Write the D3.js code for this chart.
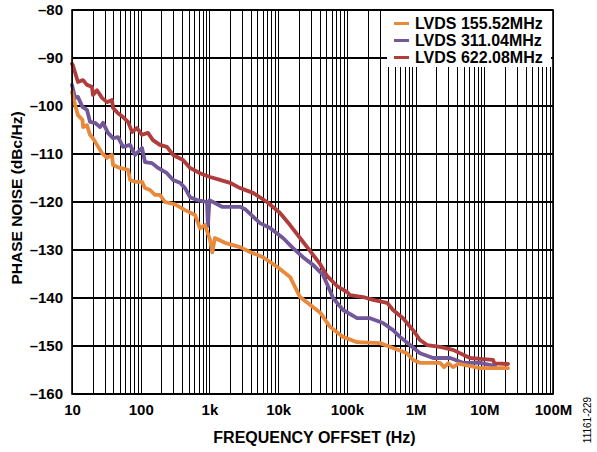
<!DOCTYPE html>
<html>
<head>
<meta charset="utf-8">
<script src="https://cdn.jsdelivr.net/npm/d3@7"></script>
<style>
body { margin: 0; background: #fff; }
text { font-family: "Liberation Sans", Arial, sans-serif; font-weight: bold; fill: #000; }
.grid line { stroke: #000; stroke-width: 1; shape-rendering: crispEdges; }
.grid line.major { stroke-width: 1.6; }
.trace { fill: none; stroke-width: 3.8; stroke-linejoin: round; stroke-linecap: round; }
</style>
</head>
<body>
<script>
// series names and colours
var seriesNames = ["LVDS 155.52MHz", "LVDS 311.04MHz", "LVDS 622.08MHz"];
var seriesColors = ["#e8893b", "#72579a", "#b03c3c"];

// tick labels
var xTicks = [10, 100, 1e3, 1e4, 1e5, 1e6, 1e7, 1e8];
var xTickLabels = ["10", "100", "1k", "10k", "100k", "1M", "10M", "100M"];
var yTicks = [-80, -90, -100, -110, -120, -130, -140, -150, -160];

// phase noise: [offset Hz, dBc/Hz]
var lvds155 = [
    [10, -97.1], [11.1, -99.8], [12.2, -101.9], [14.2, -102.9], [14.5, -104.4],
    [16.5, -104.0], [18.3, -106.0], [20.2, -106.7], [23.1, -108.1], [27.3, -109.8],
    [32.3, -110.8], [38.2, -110.2], [39.5, -112.3], [49.9, -112.9], [65.4, -113.3],
    [70, -115.4], [82.7, -115.8], [104.5, -115.8], [115.5, -117.1], [137, -117.5],
    [161, -118.5], [190, -118.5], [226, -120.0], [316, -120.5], [442, -121.7],
    [617, -122.7], [730, -125.5], [863, -124.8], [1020, -127.9], [1100, -130.5],
    [1200, -127.5], [1686, -128.5], [2790, -129.4], [3900, -130.4], [6030, -131.5],
    [9640, -133.5], [14900, -135.6], [20840, -139.8], [40700, -143.0], [56900, -146.0],
    [88000, -148.1], [141000, -149.2], [304000, -149.4], [470000, -150.4], [751000, -151.5],
    [920000, -152.9], [1.16e6, -153.5], [2.27e6, -153.5], [2.6e6, -154.4], [3.0e6, -153.6],
    [3.51e6, -154.4], [4.2e6, -153.7], [8.69e6, -154.6], [2.22e7, -154.6]
];
var lvds311 = [
    [10, -95.6], [11.1, -98.3], [12.2, -98.1], [14.2, -100.2], [16.5, -100.8],
    [18.3, -103.3], [21.6, -103.5], [25.6, -104.4], [28.3, -103.5], [33.4, -105.6],
    [39.5, -106.7], [46.7, -106.5], [55.3, -108.5], [70, -108.1], [82.7, -110.2],
    [104.5, -108.75], [115.5, -111.7], [146, -111.9], [179, -112.9], [241, -114.0],
    [296, -115.4], [373, -116.0], [442, -117.1], [522, -119.0], [659, -119.6],
    [923, -120.0], [950, -125.0], [1000, -119.6], [1525, -121.0], [2790, -121.0],
    [3300, -121.5], [5450, -124.4], [7620, -125.4], [11790, -127.5], [16480, -129.6],
    [23030, -131.5], [32200, -133.1], [45000, -135.2], [56900, -138.5], [62900, -140.0],
    [88000, -142.5], [141000, -144.2], [218000, -144.2], [336000, -145.2], [470000, -146.7],
    [594000, -148.1], [831000, -149.8], [1.16e6, -151.5], [1.8e6, -152.5], [3.18e6, -152.5],
    [4.91e6, -153.5], [8.69e6, -153.5], [1.44e7, -154.2]
];
var lvds622 = [
    [10, -91.2], [10.3, -91.5], [12.2, -95.0], [14.5, -94.6], [16.5, -95.6],
    [19.5, -96.0], [20.2, -97.7], [23.1, -96.7], [27.3, -98.3], [32.3, -99.2],
    [38.2, -98.75], [39.5, -100.4], [46.7, -101.5], [55.3, -102.3], [65.4, -103.3],
    [74.8, -105.4], [88.4, -104.6], [104.5, -106.0], [127.5, -105.6], [150.6, -107.1],
    [190, -108.1], [241, -108.5], [296, -110.2], [413, -111.25], [522, -112.9],
    [730, -114.0], [1020, -114.8], [1425, -115.4], [1995, -116.0], [2790, -117.1],
    [4310, -118.1], [6890, -120.0], [10660, -122.3], [14900, -124.8], [20840, -127.5],
    [29100, -130.2], [40700, -132.9], [51500, -135.4], [71900, -137.5], [79600, -137.9],
    [100700, -138.75], [111000, -139.4], [172000, -139.8], [241000, -140.4], [385000, -141.0],
    [470000, -142.5], [657000, -144.2], [920000, -146.7], [1.16e6, -148.75], [1.47e6, -149.8],
    [2.27e6, -150.2], [3.51e6, -150.8], [6.21e6, -152.5], [8.69e6, -152.7], [1.34e7, -152.9],
    [1.4e7, -153.6], [2.22e7, -153.75]
];
var seriesData = [lvds155, lvds311, lvds622];

window.onload = drawChart();

function drawChart(){
    var width = 597,
        height = 452,
        margin = {top: 10, right: 44, bottom: 58, left: 72},
        innerWidth = width - margin.left - margin.right,
        innerHeight = height - margin.top - margin.bottom;

    var svg = d3.select("body")
        .append("svg")
        .attr("width", width)
        .attr("height", height);

    var chart = svg.append("g")
        .attr("transform", "translate(" + margin.left + "," + margin.top + ")");

    var x = d3.scaleLog()
        .domain([10, 1e8])
        .range([0, innerWidth]);

    var y = d3.scaleLinear()
        .domain([-160, -80])
        .range([innerHeight, 0]);

    //vertical grid: 1..9 in every decade
    var xGrid = [];
    for (var d = 10; d < 1e8; d *= 10){
        for (var m = 1; m < 10; m++){
            xGrid.push(d * m);
        }
    }
    xGrid.push(1e8);

    var grid = chart.append("g").attr("class", "grid");
    grid.selectAll(".vline")
        .data(xGrid)
        .enter()
        .append("line")
        .attr("class", function(d){
            return xTicks.indexOf(d) >= 0 ? "vline major" : "vline";
        })
        .attr("x1", function(d){ return Math.round(x(d)) + 0.5; })
        .attr("x2", function(d){ return Math.round(x(d)) + 0.5; })
        .attr("y1", 0)
        .attr("y2", innerHeight);

    grid.selectAll(".hline")
        .data(yTicks)
        .enter()
        .append("line")
        .attr("class", "hline major")
        .attr("x1", 0)
        .attr("x2", innerWidth)
        .attr("y1", function(d){ return y(d); })
        .attr("y2", function(d){ return y(d); });

    //legend box sits over the grid
    var legend = chart.append("g")
        .attr("transform", "translate(" + (innerWidth - 166) + ",0)");

    legend.append("rect")
        .attr("x", 0)
        .attr("y", 1)
        .attr("width", 164)
        .attr("height", 56)
        .attr("fill", "#fff");

    var items = legend.selectAll(".item")
        .data(seriesNames)
        .enter()
        .append("g")
        .attr("class", "item")
        .attr("transform", function(d, i){ return "translate(0," + (13.5 + i * 17) + ")"; });

    items.append("line")
        .attr("x1", 7)
        .attr("x2", 22)
        .attr("y1", 0)
        .attr("y2", 0)
        .attr("stroke-width", 3)
        .attr("stroke", function(d, i){ return seriesColors[i]; });

    items.append("text")
        .attr("x", 28)
        .attr("y", 5.5)
        .style("font-size", "16px")
        .text(function(d){ return d; });

    //traces, red first so orange ends on top
    var line = d3.line()
        .x(function(d){ return x(d[0]); })
        .y(function(d){ return y(d[1]); });

    chart.selectAll(".trace")
        .data([2, 1, 0])
        .enter()
        .append("path")
        .attr("class", "trace")
        .attr("stroke", function(i){ return seriesColors[i]; })
        .attr("d", function(i){ return line(seriesData[i]); });

    //frame
    chart.append("rect")
        .attr("width", innerWidth)
        .attr("height", innerHeight)
        .attr("fill", "none")
        .attr("stroke", "#000")
        .attr("stroke-width", 1.6);

    //axes (labels only, grid does the lines)
    var xAxis = d3.axisBottom(x)
        .tickValues(xTicks)
        .tickFormat(function(d, i){ return xTickLabels[i]; })
        .tickSize(0)
        .tickPadding(10);

    var yAxis = d3.axisLeft(y)
        .tickValues(yTicks)
        .tickFormat(function(d){ return "\u2013" + Math.abs(d); })
        .tickSize(0)
        .tickPadding(9);

    chart.append("g")
        .attr("class", "axis")
        .attr("transform", "translate(0," + innerHeight + ")")
        .call(xAxis);

    chart.append("g")
        .attr("class", "axis")
        .call(yAxis);

    chart.selectAll(".axis path").remove();
    chart.selectAll(".axis text")
        .style("font-family", "'Liberation Sans', Arial, sans-serif")
        .style("font-weight", "bold")
        .style("font-size", "15px")
        .attr("fill", "#000");

    //axis titles
    svg.append("text")
        .attr("x", margin.left + innerWidth / 2 + 2)
        .attr("y", 443)
        .attr("text-anchor", "middle")
        .style("font-size", "16px")
        .text("FREQUENCY OFFSET (Hz)");

    svg.append("text")
        .attr("transform", "translate(22,198) rotate(-90)")
        .attr("text-anchor", "middle")
        .style("font-size", "15.5px")
        .text("PHASE NOISE (dBc/Hz)");

    svg.append("text")
        .attr("transform", "translate(591,420) rotate(-90)")
        .attr("text-anchor", "middle")
        .style("font-size", "10px")
        .style("font-weight", "normal")
        .text("11161-229");
};
</script>
</body>
</html>
